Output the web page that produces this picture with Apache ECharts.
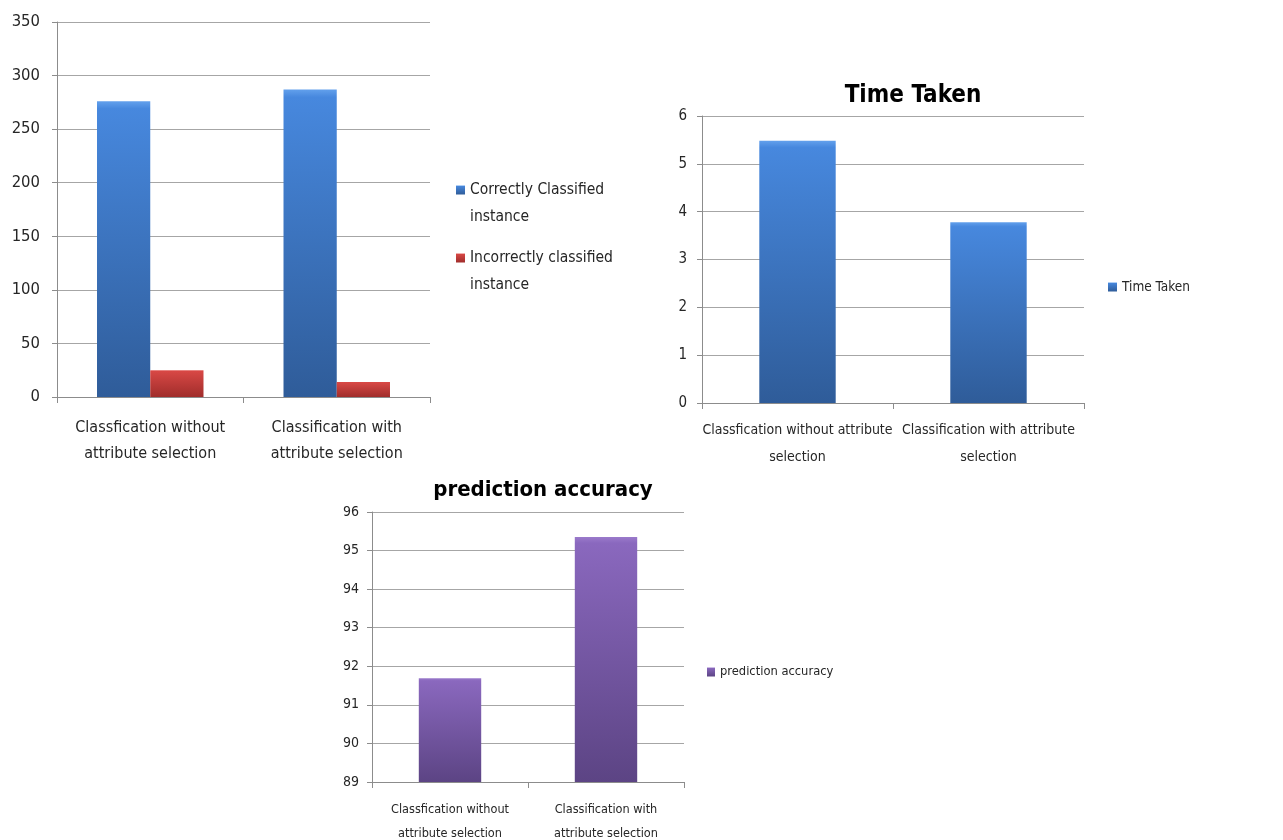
<!DOCTYPE html>
<html>
<head>
<meta charset="utf-8">
<script src="https://cdn.jsdelivr.net/npm/echarts@6/dist/echarts.min.js"></script>
<style>
  html, body { margin: 0; padding: 0; background: #ffffff; }
  #chart { width: 1283px; height: 840px; }
</style>
</head>
<body>
<div id="chart"></div>
<script>
// Classification results: instance counts, time and accuracy
const countLabels = ['Classfication without\nattribute selection', 'Classification with\nattribute selection'];
const timeLabels = ['Classfication without attribute\nselection', 'Classification with attribute\nselection'];
const accuracyLabels = ['Classfication without\nattribute selection', 'Classification with\nattribute selection'];

const correctlyClassified = [276, 287];
const incorrectlyClassified = [25, 14];
const timeTaken = [5.48, 3.78];
const predictionAccuracy = [91.69, 95.35];

const countTicks = { min: 0, max: 350, interval: 50 };
const timeTicks = { min: 0, max: 6, interval: 1 };
const accuracyTicks = { min: 89, max: 96, interval: 1 };

const FONT = '"Liberation Sans Narrow", "DejaVu Sans Condensed", sans-serif';

// vertical shading with a soft lighter rim along the top edge
function grad(hi, top, bottom) {
  return new echarts.graphic.LinearGradient(0, 0, 0, 1, [
    { offset: 0, color: hi },
    { offset: 0.025, color: top },
    { offset: 1, color: bottom }
  ]);
}
const blue = grad('#62a0ec', '#4788de', '#2f5c99');
const red = grad('#e4625e', '#d84845', '#a02d2b');
const purple = grad('#9a7acb', '#8a68be', '#5c4484');

function valueAxis(gridIndex, ticks, fontSize, margin) {
  return {
    type: 'value', gridIndex,
    min: ticks.min, max: ticks.max, interval: ticks.interval,
    axisLine: { show: true, lineStyle: { color: '#8c8c8c', width: 1 } },
    axisTick: { show: true, length: 5, lineStyle: { color: '#8c8c8c' } },
    axisLabel: { color: '#262626', fontFamily: FONT, fontSize, margin },
    splitLine: { show: true, lineStyle: { color: '#a6a6a6', width: 1 } }
  };
}
function catAxis(gridIndex, labels, fontSize, lineHeight, margin) {
  return {
    type: 'category', gridIndex, data: labels,
    axisLine: { show: true, lineStyle: { color: '#8c8c8c', width: 1 } },
    axisTick: { show: true, length: 6, lineStyle: { color: '#8c8c8c' } },
    axisLabel: { color: '#262626', fontFamily: FONT, fontSize, margin, lineHeight, interval: 0 }
  };
}
function legendText(size, lineHeight) {
  return { fontFamily: FONT, fontSize: size, color: '#262626', lineHeight };
}

const chart = echarts.init(document.getElementById('chart'), null, { renderer: 'canvas' });
chart.setOption({
  animation: false,
  backgroundColor: '#ffffff',
  title: [
    { text: 'Time Taken', left: 908, top: 79, textAlign: 'center',
      textStyle: { fontFamily: FONT, fontWeight: 'bold', fontSize: 24, color: '#000' } },
    { text: 'prediction accuracy', left: 538, top: 474, textAlign: 'center',
      textStyle: { fontFamily: FONT, fontWeight: 'bold', fontSize: 22, color: '#000' } }
  ],
  legend: [
    // leading blank line keeps the icon level with the first text line
    { data: ['Correctly Classified'], orient: 'vertical', left: 456, top: 149.5, padding: 0,
      icon: 'rect', itemWidth: 9, itemHeight: 9,
      formatter: n => '\n' + n + '\ninstance', textStyle: legendText(15.5, 27) },
    { data: ['Incorrectly classified'], orient: 'vertical', left: 456, top: 217.5, padding: 0,
      icon: 'rect', itemWidth: 9, itemHeight: 9,
      formatter: n => '\n' + n + '\ninstance', textStyle: legendText(15.5, 27) },
    { data: ['Time Taken'], orient: 'vertical', left: 1108, top: 278, padding: 0,
      icon: 'rect', itemWidth: 9, itemHeight: 9, textStyle: legendText(13.5, 18) },
    { data: ['prediction accuracy'], orient: 'vertical', left: 707, top: 663, padding: 0,
      icon: 'rect', itemWidth: 8, itemHeight: 9, textStyle: legendText(12.8, 18) }
  ],
  grid: [
    { left: 57, top: 22, width: 373, height: 375, outerBoundsMode: 'none' },
    { left: 702, top: 116, width: 382, height: 287, outerBoundsMode: 'none' },
    { left: 372, top: 512, width: 312, height: 270, outerBoundsMode: 'none' }
  ],
  xAxis: [
    catAxis(0, countLabels, 16, 26, 18),
    catAxis(1, timeLabels, 14, 27, 14),
    catAxis(2, accuracyLabels, 12.6, 24, 16)
  ],
  yAxis: [
    valueAxis(0, countTicks, 16.5, 17),
    valueAxis(1, timeTicks, 15, 15),
    valueAxis(2, accuracyTicks, 14, 13)
  ],
  series: [
    { name: 'Correctly Classified', type: 'bar', xAxisIndex: 0, yAxisIndex: 0, data: correctlyClassified,
      barGap: '0%', barCategoryGap: '42.9%', itemStyle: { color: blue } },
    { name: 'Incorrectly classified', type: 'bar', xAxisIndex: 0, yAxisIndex: 0, data: incorrectlyClassified,
      barGap: '0%', barCategoryGap: '42.9%', itemStyle: { color: red } },
    { name: 'Time Taken', type: 'bar', xAxisIndex: 1, yAxisIndex: 1, data: timeTaken,
      barCategoryGap: '60%', itemStyle: { color: blue } },
    { name: 'prediction accuracy', type: 'bar', xAxisIndex: 2, yAxisIndex: 2, data: predictionAccuracy,
      barCategoryGap: '60%', itemStyle: { color: purple } }
  ]
});
</script>
</body>
</html>
